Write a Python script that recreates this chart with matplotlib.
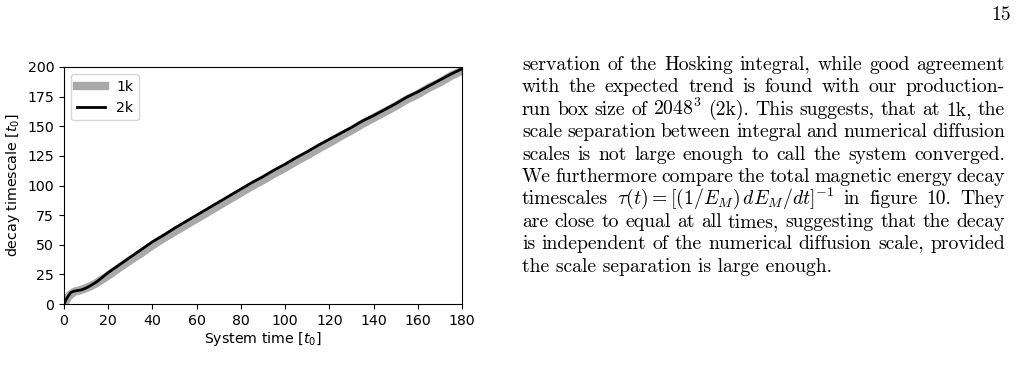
import re
import numpy as np
import matplotlib
matplotlib.use("Agg")
import matplotlib.pyplot as plt

t_1k = [0, 1, 2, 3, 4, 5, 6, 8, 10, 12, 15, 20, 25, 30, 35, 40, 45, 50, 55, 60, 65, 70, 75, 80,
        85, 90, 95, 100, 105, 110, 115, 120, 125, 130, 135, 140, 145, 150, 155, 160, 165, 170, 175, 180]
tau_1k = [0, 3, 6, 8, 9.5, 10.5, 11, 12, 13.5, 15, 18, 24, 30.5, 37, 43, 49.5, 55.5, 61, 66.5, 72,
          77.5, 83, 88.5, 94, 99.5, 104.5, 110, 115, 120.5, 125.5, 131, 136, 141.5, 146.5, 152, 157,
          162, 167, 172.5, 177, 182.5, 187, 192.5, 197]
t_2k = [0, 1, 2, 3, 4, 5, 6, 8, 10, 12, 15, 20, 25, 30, 35, 40, 45, 50, 55, 60, 65, 70, 75, 80,
        85, 90, 95, 100, 105, 110, 115, 120, 125, 130, 135, 140, 145, 150, 155, 160, 165, 170, 175, 180]
tau_2k = [0, 4, 7, 9.5, 10.5, 11, 11.3, 12, 13.5, 15.5, 19, 26.5, 33, 39.5, 46, 52.5, 58, 64, 69.5,
          75, 80.5, 86, 91.5, 97, 102.5, 107.5, 113, 118, 123.5, 128.5, 134, 139, 144, 149, 154.5,
          159, 164, 169, 174.5, 179, 184, 189, 194, 198.5]
xticks = list(range(0, 181, 20))
yticks = list(range(0, 201, 25))

body = [
    "servation of the Hosking integral, while good agreement",
    "with the expected trend is found with our production-",
    "run box size of $2048^3$ (2k). This suggests, that at 1k, the",
    "scale separation between integral and numerical diffusion",
    "scales is not large enough to call the system converged.",
    "We furthermore compare the total magnetic energy decay",
    r"timescales $\tau(t)=[(1/E_M)\,dE_M/dt]^{-1}$ in figure 10. They",
    "are close to equal at all times, suggesting that the decay",
    "is independent of the numerical diffusion scale, provided",
    "the scale separation is large enough.",
]

W, H = 1018, 388
fig = plt.figure(figsize=(W / 100, H / 100), dpi=100)
ax = fig.add_axes([64 / W, 1 - 304 / H, 398 / W, 237 / H])
ax.plot(t_1k, tau_1k, color="darkgray", lw=6, label="1k")
ax.plot(t_2k, tau_2k, color="black", lw=2, label="2k")
ax.set_xlim(0, 180)
ax.set_ylim(0, 200)
ax.set_xticks(xticks)
ax.set_yticks(yticks)
ax.tick_params(labelsize=10.2)
ax.set_xlabel("System time [$t_0$]", fontsize=10.2, labelpad=2)
ax.set_ylabel("decay timescale [$t_0$]", fontsize=10.2)
ax.legend(loc="upper left", fontsize=10.2)

# justified text column on the right
fs = 14.2
x0, x1 = 522, 1005
fig.canvas.draw()
rend = fig.canvas.get_renderer()
for i, line in enumerate(body):
    y = 1 - (70 + 22.4 * i) / H
    words = re.findall(r"\$[^$]*\$|\S+", line)
    if i == len(body) - 1:
        fig.text(x0 / W, y, line, fontsize=fs, family="cmr10", math_fontfamily="cm",
                 va="baseline", ha="left")
        continue
    objs = [fig.text(0, y, w, fontsize=fs, family="cmr10", math_fontfamily="cm",
                     va="baseline", ha="left") for w in words]
    widths = [o.get_window_extent(rend).width for o in objs]
    gap = (x1 - x0 - sum(widths)) / (len(objs) - 1)
    x = x0
    for o, wd in zip(objs, widths):
        o.set_x(x / W)
        x += wd + gap

fig.text(1011 / W, 1 - 20 / H, "15", fontsize=fs, family="cmr10", ha="right", va="baseline")

fig.savefig("out.png", dpi=100)
